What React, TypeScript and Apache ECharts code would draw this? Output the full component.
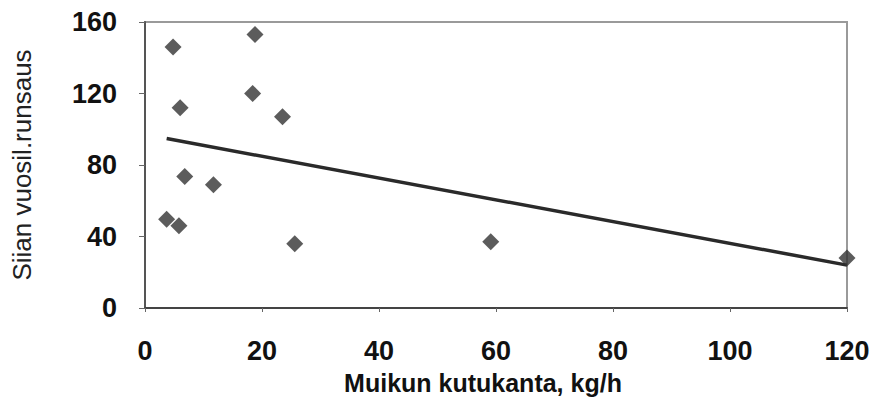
import React, { useEffect, useRef } from "react";
import * as echarts from "echarts";

const xValues = [4.8, 18.8, 6.0, 18.4, 23.5, 6.8, 11.7, 3.7, 5.8, 25.6, 59.1, 120];
const yValues = [146, 153, 112, 120, 107, 73.5, 69, 49.6, 46, 36, 37, 28];
const trendX = [3.7, 120];
const trendY = [94.8, 24];
const xTitle = "Muikun kutukanta, kg/h";
const yTitle = "Siian vuosil.runsaus";

export default function App() {
  const ref = useRef<HTMLDivElement>(null);
  useEffect(() => {
    if (!ref.current) return;
    const chart = echarts.init(ref.current, undefined, { renderer: "svg" });
    const font = '"Liberation Sans", Arial, sans-serif';
    chart.setOption({
      animation: false,
      backgroundColor: "#ffffff",
      grid: {
        left: 145,
        right: 30,
        top: 22,
        bottom: 99,
        outerBoundsMode: "none",
        containLabel: false,
        show: true,
        borderColor: "#9a9a9a",
        borderWidth: 2,
        backgroundColor: "transparent",
      },
      xAxis: {
        type: "value",
        min: 0,
        max: 120,
        interval: 20,
        name: xTitle,
        nameLocation: "middle",
        nameGap: 62,
        nameTextStyle: { fontFamily: font, fontSize: 25, color: "#111", fontWeight: "bold", padding: [0, 26, 0, 0] },
        axisLine: { show: true, lineStyle: { color: "#444", width: 2 } },
        axisTick: { show: true, length: 4, lineStyle: { color: "#666" } },
        axisLabel: { fontFamily: font, fontSize: 27, color: "#111", margin: 29, fontWeight: "bold" },
        splitLine: { show: false },
      },
      yAxis: {
        type: "value",
        min: 0,
        max: 160,
        interval: 40,
        name: yTitle,
        nameLocation: "middle",
        nameGap: 110,
        nameRotate: 90,
        nameTextStyle: { fontFamily: font, fontSize: 26, color: "#222" },
        axisLine: { show: true, lineStyle: { color: "#555", width: 2 } },
        axisTick: { show: true, length: 6, lineStyle: { color: "#666" } },
        axisLabel: { fontFamily: font, fontSize: 27, color: "#111", margin: 28, fontWeight: "bold" },
        splitLine: { show: false },
      },
      series: [
        {
          type: "line",
          data: trendX.map((x, i) => [x, trendY[i]]),
          symbol: "none",
          lineStyle: { color: "#2a2a2a", width: 3.5 },
          clip: false,
          z: 2,
        },
        {
          type: "scatter",
          data: xValues.map((x, i) => [x, yValues[i]]),
          symbol: "diamond",
          symbolSize: 17,
          itemStyle: { color: "#333333" },
          clip: false,
          z: 3,
        },
      ],
    });
    return () => chart.dispose();
  }, []);
  return <div ref={ref} style={{ width: 877, height: 407, position: "absolute", left: 0, top: 0 }} />;
}
